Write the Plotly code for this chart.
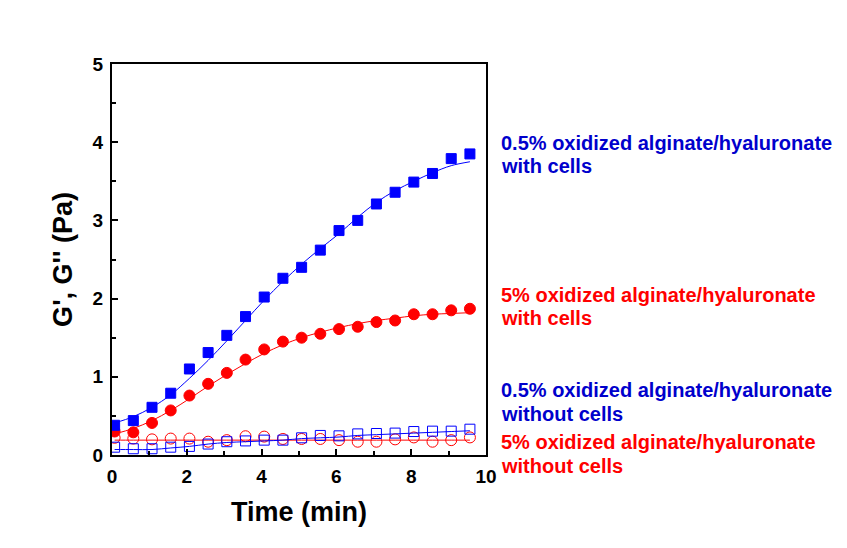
import plotly.graph_objects as go

time_min = [0.07 + 0.5 * k for k in range(20)]

blue_with = [0.38, 0.44, 0.61, 0.79, 1.10, 1.31, 1.53, 1.77, 2.02, 2.26, 2.40, 2.62, 2.87, 3.00, 3.21, 3.36, 3.49, 3.60, 3.79, 3.85]
blue_with_fit = [0.41, 0.49, 0.61, 0.77, 0.98, 1.21, 1.46, 1.72, 1.98, 2.22, 2.44, 2.64, 2.83, 3.04, 3.23, 3.38, 3.50, 3.61, 3.70, 3.75]

red_with = [0.30, 0.29, 0.41, 0.57, 0.76, 0.91, 1.05, 1.22, 1.35, 1.45, 1.50, 1.55, 1.61, 1.64, 1.70, 1.72, 1.80, 1.80, 1.85, 1.87]
red_with_fit = [0.27, 0.34, 0.44, 0.57, 0.72, 0.88, 1.03, 1.17, 1.30, 1.41, 1.50, 1.57, 1.63, 1.68, 1.72, 1.75, 1.78, 1.80, 1.81, 1.82]

blue_without = [0.10, 0.08, 0.08, 0.10, 0.11, 0.14, 0.17, 0.18, 0.19, 0.19, 0.22, 0.25, 0.245, 0.27, 0.275, 0.28, 0.30, 0.305, 0.305, 0.33]
blue_without_fit = [0.07, 0.07, 0.07, 0.09, 0.11, 0.14, 0.16, 0.17, 0.18, 0.19, 0.21, 0.22, 0.23, 0.25, 0.26, 0.27, 0.28, 0.29, 0.30, 0.31]

red_without = [0.22, 0.21, 0.20, 0.21, 0.21, 0.17, 0.19, 0.24, 0.235, 0.205, 0.205, 0.205, 0.19, 0.17, 0.17, 0.20, 0.225, 0.17, 0.19, 0.225]
red_without_fit = [0.19] * 20

label_lines = [
    ("0.5% oxidized alginate/hyaluronate", 3.99, "#0000CC"),
    ("with cells", 3.70, "#0000CC"),
    ("5% oxidized alginate/hyaluronate", 2.05, "#FF0000"),
    ("with cells", 1.75, "#FF0000"),
    ("0.5% oxidized alginate/hyaluronate", 0.83, "#0000CC"),
    ("without cells", 0.53, "#0000CC"),
    ("5% oxidized alginate/hyaluronate", 0.17, "#FF0000"),
    ("without cells", -0.14, "#FF0000"),
]

BLUE = "#0000FF"
RED = "#FF0000"
Y_MAX = 5.0
FONT = "Liberation Sans, Arial"

fig = go.Figure()

def add_series(vals, fit, color, symbol, size):
    fig.add_trace(go.Scatter(x=time_min, y=fit, mode="lines",
                             line=dict(color=color, width=1, shape="spline"),
                             showlegend=False, hoverinfo="skip"))
    fig.add_trace(go.Scatter(x=time_min, y=vals, mode="markers",
                             marker=dict(symbol=symbol, size=size, color=color,
                                         line=dict(color=color, width=1)),
                             showlegend=False))

add_series(red_without, red_without_fit, RED, "circle-open", 11)
add_series(blue_without, blue_without_fit, BLUE, "square-open", 10)
add_series(red_with, red_with_fit, RED, "circle", 11)
add_series(blue_with, blue_with_fit, BLUE, "square", 10)

for txt, yv, col in label_lines:
    fig.add_annotation(x=1.035, y=yv / Y_MAX, xref="paper", yref="paper", text="<b>" + txt + "</b>",
                       showarrow=False, xanchor="left", yanchor="middle", align="left",
                       font=dict(family=FONT, size=20, color=col))

axis_common = dict(showline=True, linecolor="black", linewidth=2, mirror=True,
                   ticks="inside", tickcolor="black", tickwidth=2, ticklen=6,
                   showgrid=False, zeroline=False, automargin=False,
                   tickfont=dict(family=FONT, size=19, color="black"))

fig.update_xaxes(range=[0, 10], tickvals=[0, 2, 4, 6, 8, 10],
                 ticktext=["<b>%d</b>" % v for v in [0, 2, 4, 6, 8, 10]],
                 ticklabelstandoff=3,
                 minor=dict(ticks="inside", tickvals=[1, 3, 5, 7, 9], ticklen=4, tickwidth=2, tickcolor="black"),
                 title=dict(text="<b>Time (min)</b>", standoff=16,
                            font=dict(family=FONT, size=27, color="black")),
                 **axis_common)
fig.update_yaxes(range=[0, Y_MAX], tickvals=[0, 1, 2, 3, 4, 5],
                 ticktext=["<b>%d</b>" % v for v in range(6)],
                 ticklabelstandoff=3,
                 minor=dict(ticks="inside", tickvals=[0.5, 1.5, 2.5, 3.5, 4.5], ticklen=4, tickwidth=2, tickcolor="black"),
                 title=dict(text="<b>G', G'' (Pa)</b>", standoff=12,
                            font=dict(family=FONT, size=27, color="black")),
                 **axis_common)

fig.update_layout(width=847, height=548, margin=dict(l=104, r=369, t=56, b=101),
                  plot_bgcolor="white", paper_bgcolor="white")

fig.write_html("out.html")
